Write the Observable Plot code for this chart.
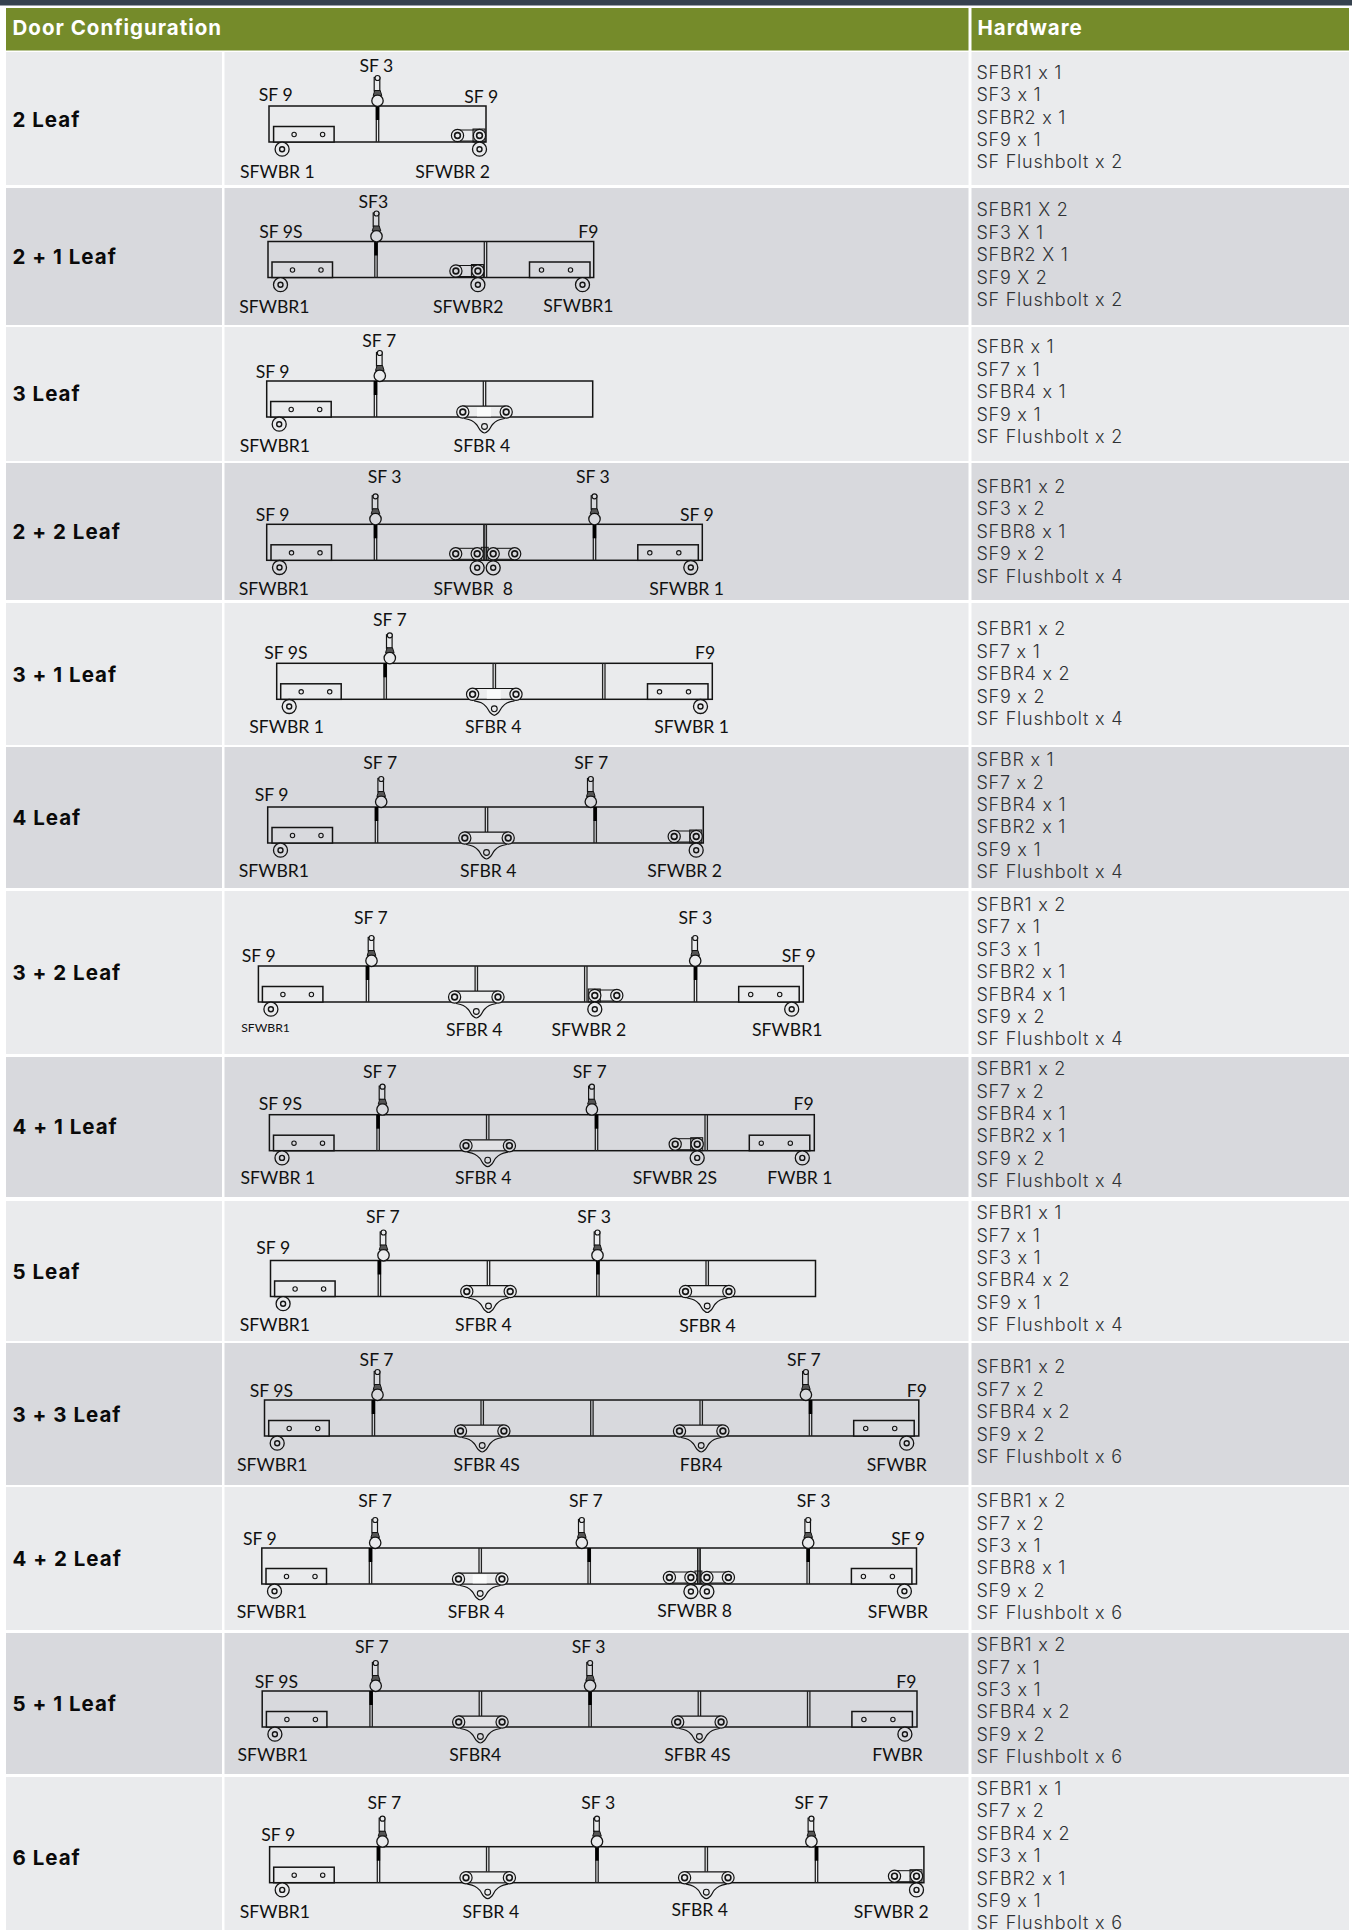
<!DOCTYPE html>
<html>
<head>
<meta charset="utf-8">
<style>
html,body{margin:0;padding:0;background:#fff}
svg{display:block}
g[font-weight="700"]{letter-spacing:1px}
g[font-weight="300"]{letter-spacing:.75px;font-feature-settings:"calt" 0;font-variant-ligatures:none}
</style>
<script src="https://cdn.jsdelivr.net/npm/d3@7"></script>
<script src="https://cdn.jsdelivr.net/npm/@observablehq/plot@0.6"></script>
</head>
<body>
<div id="chart"></div>
<script>
const columnTitles = ["Door Configuration", "Hardware"];
const configurations = ["2 Leaf","2 + 1 Leaf","3 Leaf","2 + 2 Leaf","3 + 1 Leaf","4 Leaf","3 + 2 Leaf","4 + 1 Leaf","5 Leaf","3 + 3 Leaf","4 + 2 Leaf","5 + 1 Leaf","6 Leaf"];
const hardware = [
  ["SFBR1 x 1","SF3 x 1","SFBR2 x 1","SF9 x 1","SF Flushbolt x 2"],
  ["SFBR1 X 2","SF3 X 1","SFBR2 X 1","SF9 X 2","SF Flushbolt x 2"],
  ["SFBR x 1","SF7 x 1","SFBR4 x 1","SF9 x 1","SF Flushbolt x 2"],
  ["SFBR1 x 2","SF3 x 2","SFBR8 x 1","SF9 x 2","SF Flushbolt x 4"],
  ["SFBR1 x 2","SF7 x 1","SFBR4 x 2","SF9 x 2","SF Flushbolt x 4"],
  ["SFBR x 1","SF7 x 2","SFBR4 x 1","SFBR2 x 1","SF9 x 1","SF Flushbolt x 4"],
  ["SFBR1 x 2","SF7 x 1","SF3 x 1","SFBR2 x 1","SFBR4 x 1","SF9 x 2","SF Flushbolt x 4"],
  ["SFBR1 x 2","SF7 x 2","SFBR4 x 1","SFBR2 x 1","SF9 x 2","SF Flushbolt x 4"],
  ["SFBR1 x 1","SF7 x 1","SF3 x 1","SFBR4 x 2","SF9 x 1","SF Flushbolt x 4"],
  ["SFBR1 x 2","SF7 x 2","SFBR4 x 2","SF9 x 2","SF Flushbolt x 6"],
  ["SFBR1 x 2","SF7 x 2","SF3 x 1","SFBR8 x 1","SF9 x 2","SF Flushbolt x 6"],
  ["SFBR1 x 2","SF7 x 1","SF3 x 1","SFBR4 x 2","SF9 x 2","SF Flushbolt x 6"],
  ["SFBR1 x 1","SF7 x 2","SFBR4 x 2","SF3 x 1","SFBR2 x 1","SF9 x 1","SF Flushbolt x 6"]
];
const rowTop    = [52,188,327,463,603,747,891,1057,1201,1343,1487,1633,1777];
const rowBottom = [185,325,461,600,745,888,1054,1197,1341,1485,1630,1774,1930];
const rowLabelMiddle = [119.8,257,394,532,674.5,817.5,973,1126.5,1271.5,1414.5,1559,1704,1858];
const hardwareMiddle = [117.3,255,392,531.5,674,816,972,1125,1269,1412,1557,1701,1856];
const doorLeft  = [269,268,266.7,266.7,276.7,267.7,258.4,269.4,270.5,264.5,261.8,262.2,269.6];
const doorRight = [486,593.7,592.7,702.3,712.3,703.3,803.3,814.3,815.5,918.8,916.5,917,923.9];
const doorTop   = [106,241.5,381,524.3,663.3,807,966,1114.7,1260.5,1400,1548,1691,1846.7];
// hinge lines with a heavy top section
const heavyJoints = [[377],[375.5],[375],[375,594],[384.7],[376,594.7],[367,695],[377.6,596],[378.9,597.4],[372.9,810],[370,588.7,807.7],[370.6,589.6],[378,596.5,816]];
// plain hinge lines, running the full door height
const plainJoints = [[],[485],[],[484.7],[603.3],[],[585.3],[705.7],[],[591.4],[698.4],[808.2],[]];
// top pivots SF3 / SF7
const pivots = [[377],[376],[379.3],[375,594],[389.3],[380.7,590.3],[371,694.7],[382,591.4],[383,597],[377,805.4],[374.7,581.3,807.7],[375.2,589.6],[382,596.5,810.9]];
// SFBR1 brackets: left-hand, given by left edge; right-hand, given by right edge
const leftBrackets  = [[273.6],[272],[270.7],[271],[280.7],[272],[262.4],[273.5],[274.6],[268.7],[266],[266.4],[273.7]];
const rightBrackets = [[],[590],[],[698.3],[708],[],[799.2],[809.8],[],[914.2],[911.9],[912.4],[]];
// SFBR4 centre hangers
const centreHangers = [[],[],[484],[],[493.8],[486],[475.8],[487.2],[488,706.7],[481.7,700.7],[479.7],[479.9,698.9],[487.2,705.8]];
// rows whose hanger shows a pale centre panel
const paleHangerRows = [2,4,10];
// SFBR2 roller pairs, given by the wheel position
const rollersOutward = [[479],[477.4],[],[],[],[695.7],[],[696.7],[],[],[],[],[916]];
const rollersInward  = [[],[],[],[],[],[],[594.3],[],[],[],[],[],[]];
// SFBR8 double roller sets, given by the centre joint
const doubleRollers = [[],[],[],[484.7],[],[],[],[],[],[],[698.4],[],[]];
const diagramLabels = [
  ["SF 3",376.4,66],["SF 9",275.8,95],["SF 9",481.3,97.3],["SFWBR 1",277.5,171.7],["SFWBR 2",452.7,171.7],
  ["SF3",373.4,201.7],["SF 9S",281,232.3],["F9",588.5,232.3],["SFWBR1",274.5,307],["SFWBR2",468.3,307],["SFWBR1",578.5,306],
  ["SF 7",379.3,340.7],["SF 9",272.7,372],["SFWBR1",275,446],["SFBR 4",482,446],
  ["SF 3",384.7,476.7],["SF 3",593,476.7],["SF 9",272.7,515],["SF 9",697,515],["SFWBR1",274,589],["SFWBR  8",473.3,589],["SFWBR 1",686.7,589],
  ["SF 7",390,620],["SF 9S",286,653.3],["F9",705.3,653.3],["SFWBR 1",286.7,727],["SFBR 4",493.3,727],["SFWBR 1",691.7,727],
  ["SF 7",380.3,763.3],["SF 7",591.3,763.3],["SF 9",271.7,795],["SFWBR1",274,871],["SFBR 4",488.3,871],["SFWBR 2",684.7,871],
  ["SF 7",371,918.3],["SF 3",695.5,918.3],["SF 9",258.8,956],["SF 9",798.8,956],["SFBR 4",474.3,1030.3],["SFWBR 2",589,1030],["SFWBR1",787.3,1030],
  ["SF 7",380,1071.7],["SF 7",589.8,1071.7],["SF 9S",280.4,1104],["F9",803.7,1104],["SFWBR 1",278,1178.3],["SFBR 4",483.3,1178.3],["SFWBR 2S",675,1178.3],["FWBR 1",800,1178.3],
  ["SF 7",383,1217.3],["SF 3",594.2,1217.3],["SF 9",273.3,1248],["SFWBR1",275,1324.7],["SFBR 4",483.5,1324.7],["SFBR 4",707.6,1325.5],
  ["SF 7",376.6,1360.3],["SF 7",804,1360.3],["SF 9S",271.4,1391.3],["F9",917,1391.3],["SFWBR1",272.3,1465.3],["SFBR 4S",486.8,1465.3],["FBR4",701.2,1465.3],["SFWBR",896.8,1465.3],
  ["SF 7",375.2,1501.3],["SF 7",586,1501.3],["SF 3",813.7,1501.3],["SF 9",260,1539.3],["SF 9",908.2,1539.3],["SFWBR1",271.9,1612.3],["SFBR 4",476.2,1612.3],["SFWBR 8",694.7,1611],["SFWBR",898,1612],
  ["SF 7",372,1647.3],["SF 3",588.7,1647.3],["SF 9S",276.5,1682],["F9",906.4,1682],["SFWBR1",272.8,1754.7],["SFBR4",475.3,1754.7],["SFBR 4S",697.5,1754.7],["FWBR",897.7,1754.7],
  ["SF 7",384.4,1803.3],["SF 3",598.3,1803.3],["SF 7",811.4,1803.3],["SF 9",278.3,1835],["SFWBR1",275,1911.7],["SFBR 4",490.9,1911.7],["SFBR 4",699.8,1910],["SFWBR 2",891.3,1911.7]
];
const smallLabels = [["SFWBR1",265,1028]];

// ---- fixed drawing parameters
const GREEN="#758b2a", SLATE="#36424e", LIGHT="#eaebed", DARK="#d8d9dd", INK="#141414";
const W=1352, H=1930, DOOR=36;
const rowBg = i => i%2 ? DARK : LIGHT;

// ---- tables derived from the arrays
const rows = configurations.map((name,i)=>({name,i,bg:rowBg(i),top:rowTop[i],bottom:rowBottom[i],labelY:rowLabelMiddle[i],
  left:doorLeft[i],right:doorRight[i],doorT:doorTop[i],doorB:doorTop[i]+DOOR}));
const expand = (arr,fn)=>rows.flatMap(r=>arr[r.i].flatMap(x=>fn(x,r)));

const hardwareLines = rows.flatMap(r=>hardware[r.i].map((t,k,a)=>({t,y:hardwareMiddle[r.i]+(k-(a.length-1)/2)*22.4})));

const jointLines=[], heavyTops=[];
heavyJoints.forEach((a,i)=>a.forEach(x=>{const r=rows[i];
  jointLines.push({x:x-1.2,y1:r.doorT,y2:r.doorB},{x:x+1.2,y1:r.doorT,y2:r.doorB});
  heavyTops.push({x,y1:r.doorT,y2:r.doorT+14});
}));
plainJoints.forEach((a,i)=>a.forEach(x=>{const r=rows[i];
  jointLines.push({x:x-1.2,y1:r.doorT,y2:r.doorB},{x:x+1.2,y1:r.doorT,y2:r.doorB});
}));
centreHangers.forEach((a,i)=>a.forEach(x=>{const r=rows[i];
  jointLines.push({x:x-1.2,y1:r.doorT,y2:r.doorB-11},{x:x+1.2,y1:r.doorT,y2:r.doorB-11});
}));
doubleRollers.forEach((a,i)=>a.forEach(x=>{const r=rows[i];
  jointLines.push({x:x-1.2,y1:r.doorT,y2:r.doorB},{x:x+1.2,y1:r.doorT,y2:r.doorB});
}));

const BW=60.5, BH=15.5;
const brackets=[...expand(leftBrackets,(x,r)=>({x1:x,x2:x+BW,y1:r.doorB-BH,y2:r.doorB,bg:r.bg})),
                ...expand(rightBrackets,(x,r)=>({x1:x-BW,x2:x,y1:r.doorB-BH,y2:r.doorB,bg:r.bg}))];
const holes=[...expand(leftBrackets,(x,r)=>[{x:x+20,y:r.doorB-8,bg:r.bg},{x:x+48.5,y:r.doorB-8,bg:r.bg}]),
             ...expand(rightBrackets,(x,r)=>[{x:x-20,y:r.doorB-8,bg:r.bg},{x:x-49,y:r.doorB-8,bg:r.bg}])];
const wheels=[...expand(leftBrackets,(x,r)=>({x:x+8,y:r.doorB+6.7,bg:r.bg})),
              ...expand(rightBrackets,(x,r)=>({x:x-8,y:r.doorB+6.7,bg:r.bg})),
              ...expand(rollersOutward,(x,r)=>({x,y:r.doorB+6.7,bg:r.bg})),
              ...expand(rollersInward,(x,r)=>({x,y:r.doorB+6.7,bg:r.bg})),
              ...expand(doubleRollers,(x,r)=>[{x:x-8,y:r.doorB+7,bg:r.bg},{x:x+8,y:r.doorB+7,bg:r.bg}])];

const rollerSets=[...expand(rollersOutward,(x,r)=>({a:x-22,b:x,y:r.doorB-7,bg:r.bg})),
                  ...expand(rollersInward,(x,r)=>({a:x,b:x+22,y:r.doorB-7,bg:r.bg})),
                  ...expand(doubleRollers,(x,r)=>[{a:x-29.5,b:x-8,y:r.doorB-7,bg:r.bg},{a:x+8,b:x+29.5,y:r.doorB-7,bg:r.bg}])];
const wheelGuards=[...expand(rollersOutward,(x,r)=>({x1:x-6,x2:x+6,y1:r.doorB-13,y2:r.doorB})),
                   ...expand(rollersInward,(x,r)=>({x1:x-6,x2:x+6,y1:r.doorB-13,y2:r.doorB})),
                   ...expand(doubleRollers,(x,r)=>({x1:x-3.5,x2:x+3.5,y1:r.doorB-13,y2:r.doorB}))];

const hangers=expand(centreHangers,(x,r)=>({x,y:r.doorB,bg:r.bg,i:r.i}));
const hangerArms=hangers.flatMap((h,id)=>[[-20,1],[-13,3],[-8,7],[-4,13],[0,15.5],[4,13],[8,7],[13,3],[20,1]]
  .map(([dx,dy])=>({id,x:h.x+dx,y:h.y+dy,bg:h.bg})));
const rollerDots=[...rollerSets.flatMap(s=>[{x:s.a,y:s.y,bg:s.bg},{x:s.b,y:s.y,bg:s.bg}]),
                  ...hangers.flatMap(h=>[{x:h.x-21.7,y:h.y-5.5,bg:h.bg},{x:h.x+21.7,y:h.y-5.5,bg:h.bg}])];

const pivotRows=expand(pivots,(x,r)=>({x,t:r.doorT,bg:r.bg}));
const collars=pivotRows.map((p,id)=>[[-2.7,-16],[-4.3,-11],[4.3,-11],[2.7,-16],[-2.7,-16]].map(([dx,dy])=>({id,x:p.x+dx,y:p.t+dy,bg:p.bg}))).flat();

const labelData=diagramLabels.map(([t,x,y])=>({t,x:x-0.6,y}));
const smallData=smallLabels.map(([t,x,y])=>({t,x,y}));

const stroke=INK;
const chart=Plot.plot({
  width:W,height:H,margin:0,
  x:{domain:[0,W],axis:null},
  y:{domain:[H,0],axis:null},
  color:{type:"identity"},
  style:{background:"#fff",overflow:"visible"},
  marks:[
    // table
    Plot.rect([{x1:0,x2:W,y1:0,y2:5.5}],{x1:"x1",x2:"x2",y1:"y1",y2:"y2",fill:SLATE}),
    Plot.rect([{x1:6,x2:968.5,y1:8,y2:50.5},{x1:971.5,x2:1349,y1:8,y2:50.5}],{x1:"x1",x2:"x2",y1:"y1",y2:"y2",fill:GREEN}),
    Plot.rect(rows,{x1:()=>6,x2:()=>222,y1:"top",y2:"bottom",fill:"bg"}),
    Plot.rect(rows,{x1:()=>224.5,x2:()=>968.5,y1:"top",y2:"bottom",fill:"bg"}),
    Plot.rect(rows,{x1:()=>971.5,x2:()=>1349,y1:"top",y2:"bottom",fill:"bg"}),
    Plot.text([{t:columnTitles[0],x:12,y:28},{t:columnTitles[1],x:977,y:28}],{text:"t",x:"x",y:"y",fill:"#fff",textAnchor:"start",lineAnchor:"middle",fontFamily:"Inter",fontWeight:700,fontSize:20.5}),
    Plot.text(rows,{text:"name",x:()=>12,y:"labelY",fill:"#0a0a0a",textAnchor:"start",lineAnchor:"middle",fontFamily:"Inter",fontWeight:700,fontSize:20.5}),
    Plot.text(hardwareLines,{text:"t",x:()=>976,y:"y",fill:"#2f3235",textAnchor:"start",lineAnchor:"middle",fontFamily:"Inter",fontWeight:300,fontSize:18}),
    // doors
    Plot.rect(rows,{x1:"left",x2:"right",y1:"doorT",y2:"doorB",fill:"none",stroke,strokeWidth:1.5}),
    Plot.ruleX(jointLines,{x:"x",y1:"y1",y2:"y2",stroke:"#222",strokeWidth:1.3}),
    Plot.ruleX(heavyTops,{x:"x",y1:"y1",y2:"y2",stroke:"#000",strokeWidth:3.4}),
    // SFBR1 brackets
    Plot.rect(brackets,{x1:"x1",x2:"x2",y1:"y1",y2:"y2",fill:"bg",stroke,strokeWidth:1.5}),
    Plot.dot(holes,{x:"x",y:"y",r:2.2,fill:"bg",stroke,strokeWidth:1.1}),
    // SFBR2 / SFBR8 rollers
    Plot.rect(wheelGuards,{x1:"x1",x2:"x2",y1:"y1",y2:"y2",fill:"#000",fillOpacity:0.2,stroke,strokeWidth:1}),
    Plot.ruleY(rollerSets,{x1:"a",x2:"b",y:d=>d.y-5.5,stroke,strokeWidth:1}),
    Plot.ruleY(rollerSets,{x1:"a",x2:"b",y:d=>d.y+5.5,stroke,strokeWidth:1}),
    // SFBR4 hangers
    Plot.rect(hangers,{x1:d=>d.x-21.7,x2:d=>d.x+21.7,y1:d=>d.y-11,y2:d=>d.y,fill:"#f3f3f3",fillOpacity:0.3}),
    Plot.rect(hangers.filter(h=>paleHangerRows.includes(h.i)),{x1:d=>d.x-7,x2:d=>d.x+7,y1:d=>d.y-9.5,y2:d=>d.y-0.5,fill:"#fff",fillOpacity:0.75}),
    Plot.ruleY(hangers,{x1:d=>d.x-21.7,x2:d=>d.x+21.7,y:d=>d.y-11.3,stroke,strokeWidth:1.2}),
    Plot.line(hangerArms,{x:"x",y:"y",z:"id",curve:"catmull-rom",fill:"bg",stroke,strokeWidth:1.2}),
    Plot.dot(hangers,{x:"x",y:d=>d.y+9,r:2.9,fill:"bg",stroke,strokeWidth:1.1}),
    // rollers and wheels
    Plot.dot(rollerDots,{x:"x",y:"y",r:6.1,fill:"bg",stroke,strokeWidth:1.2}),
    Plot.dot(rollerDots,{x:"x",y:"y",r:2.9,fill:"bg",stroke,strokeWidth:1.6}),
    Plot.dot(wheels,{x:"x",y:"y",r:7,fill:"bg",stroke,strokeWidth:1.3}),
    Plot.dot(wheels,{x:"x",y:"y",r:2.5,fill:"bg",stroke,strokeWidth:1.4}),
    // pivots
    Plot.rect(pivotRows,{x1:d=>d.x-2.8,x2:d=>d.x+2.8,y1:d=>d.t-28.5,y2:d=>d.t-15,fill:"bg",stroke,strokeWidth:1.2}),
    Plot.line(collars,{x:"x",y:"y",z:"id",fill:"#555",stroke,strokeWidth:1}),
    Plot.dot(pivotRows,{x:"x",y:d=>d.t-28.5,r:2.5,fill:"bg",stroke,strokeWidth:1.2}),
    Plot.dot(pivotRows,{x:"x",y:d=>d.t-5.7,r:5.7,fill:"bg",stroke,strokeWidth:1.3}),
    // callouts
    Plot.text(labelData,{text:"t",x:"x",y:"y",fill:"#111",textAnchor:"middle",lineAnchor:"middle",fontFamily:"Lato",fontSize:17.6}),
    Plot.text(smallData,{text:"t",x:"x",y:"y",fill:"#111",textAnchor:"middle",lineAnchor:"middle",fontFamily:"Lato",fontSize:12.2})
  ]
});
document.getElementById("chart").append(chart);
</script>
</body>
</html>
